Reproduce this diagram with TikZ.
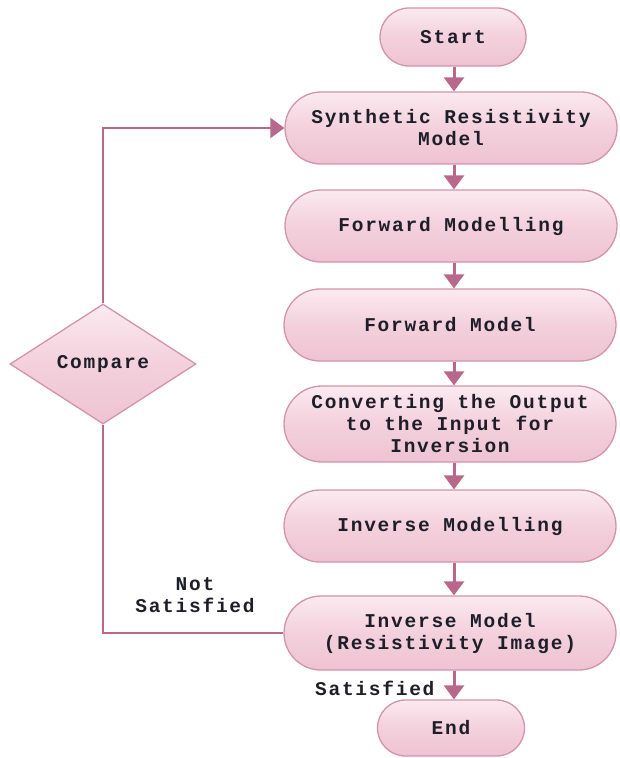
\documentclass[tikz,border=0pt]{standalone}
\usepackage{fontspec}
\setmonofont[LetterSpace=9]{Liberation Mono}
\usetikzlibrary{shapes.geometric,shapes.misc,arrows.meta}
\definecolor{edgec}{HTML}{B8688A}
\definecolor{rimc}{HTML}{D393AC}
\definecolor{topc}{HTML}{FBEAF0}
\definecolor{midc}{HTML}{F3D0DC}
\definecolor{botc}{HTML}{EEC3D2}
\definecolor{txtc}{HTML}{1E1E28}
\tikzset{
  boxfont/.style={font=\ttfamily\bfseries\fontsize{19.5}{22}\selectfont, text=txtc},
  procbox/.style={rounded rectangle, draw=rimc, line width=1.3pt,
    top color=topc, bottom color=botc, middle color=midc,
    minimum width=336pt, minimum height=72pt, inner sep=2pt,
    align=center, boxfont},
  termbox/.style={procbox, minimum width=150pt, minimum height=58pt},
  decbox/.style={diamond, draw=rimc, line width=1.3pt,
    top color=topc, bottom color=botc, middle color=midc,
    aspect=1.55, minimum width=186pt, minimum height=120pt, inner sep=0pt, boxfont},
  flow/.style={draw=edgec, line width=3pt,
    -{Triangle[width=20pt,length=14pt]}},
  loopline/.style={draw=edgec, line width=2.5pt},
  tag/.style={boxfont, align=center}
}
\begin{document}
\begin{tikzpicture}[x=1pt, y=-1pt]
\useasboundingbox (0,0) rectangle (620,758);
\node[termbox] (start) at (453,37) {Start};
\node[procbox] (syn) at (451,128) {Synthetic Resistivity\\Model};
\node[procbox] (fwdm) at (451,226) {Forward Modelling};
\node[procbox] (fwd) at (450,325) {Forward Model};
\node[procbox, minimum height=76pt] (conv) at (450,424) {Converting the Output\\to the Input for\\Inversion};
\node[procbox] (invm) at (450,526) {Inverse Modelling};
\node[procbox, minimum height=74pt] (inv) at (450,633) {Inverse Model\\(Resistivity Image)};
\node[termbox, minimum width=151pt, minimum height=56pt] (fin) at (451,728) {End};
\node[decbox] (cmp) at (103,364) {Compare};

\draw[flow] (start.south -| 454,0) -- (syn.north -| 454,0);
\draw[flow] (syn.south -| 454,0) -- (fwdm.north -| 454,0);
\draw[flow] (fwdm.south -| 454,0) -- (fwd.north -| 454,0);
\draw[flow] (fwd.south -| 454,0) -- (conv.north -| 454,0);
\draw[flow] (conv.south -| 454,0) -- (invm.north -| 454,0);
\draw[flow] (invm.south -| 454,0) -- (inv.north -| 454,0);
\draw[flow] (inv.south -| 454,0) -- (fin.north -| 454,0);

\draw[loopline] (inv.west) -| (cmp.south);
\draw[loopline, -{Triangle[width=20pt,length=14pt]}] (cmp.north) |- (syn.west);

\node[tag] (notsat) at (195,595) {Not\\Satisfied};
\node[tag, anchor=east] (sat) at (438,688) {Satisfied};
\end{tikzpicture}
\end{document}
